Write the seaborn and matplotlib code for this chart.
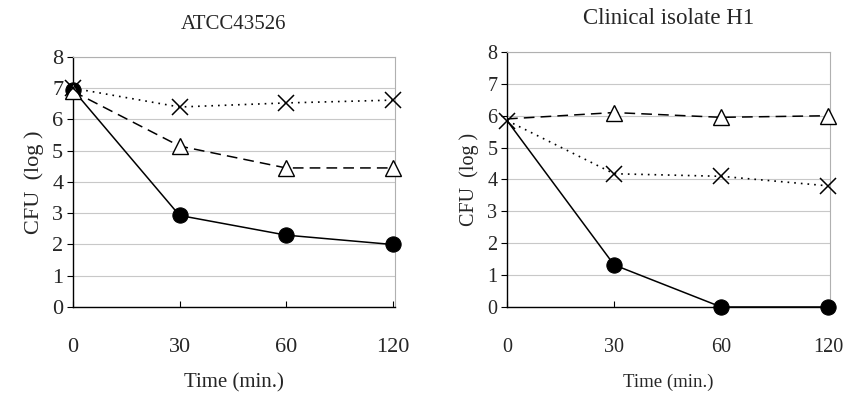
import numpy as np
import pandas as pd
import seaborn as sns
import matplotlib.pyplot as plt

times = ["0", "30", "60", "120"]

# ATCC43526
atcc_circle = [6.95, 2.93, 2.3, 2.0]
atcc_triangle = [6.9, 5.15, 4.45, 4.45]
atcc_cross = [7.0, 6.4, 6.53, 6.62]

# Clinical isolate H1
h1_circle = [5.85, 1.32, 0.0, 0.0]
h1_triangle = [5.9, 6.1, 5.95, 6.0]
h1_cross = [5.85, 4.18, 4.1, 3.8]

sns.set_style("white")
plt.rcParams["font.family"] = ["Liberation Serif", "DejaVu Serif"]

fig = plt.figure(figsize=(8.51, 3.95), dpi=100)
ax1 = fig.add_axes([0.0858, 0.2228, 0.378, 0.6329])
ax2 = fig.add_axes([0.5958, 0.2228, 0.380, 0.6456])

panels = [
    (ax1, "ATCC43526", atcc_circle, atcc_triangle, atcc_cross, 15, 16, 15, None),
    (ax2, "Clinical isolate H1", h1_circle, h1_triangle, h1_cross, 16.5, 14.5, 13.5, [1, 2, 3]),
]

for ax, title, circ, tri, crs, tsize, fsize, xlsize, mevery in panels:
    df = pd.DataFrame({"time": times, "circle": circ, "triangle": tri, "cross": crs})
    sns.lineplot(data=df, x="time", y="circle", ax=ax, color="black", lw=1.1,
                 linestyle="-", marker="o", markersize=11, markevery=mevery,
                 markerfacecolor="black", markeredgecolor="black", sort=False, zorder=3,
                 clip_on=False)
    sns.lineplot(data=df, x="time", y="triangle", ax=ax, color="black", lw=1.1,
                 linestyle=(0, (7, 4)), marker="^", markersize=11, markevery=mevery,
                 markerfacecolor="white", markeredgecolor="black", markeredgewidth=1.0,
                 sort=False, zorder=4, clip_on=False)
    sns.lineplot(data=df, x="time", y="cross", ax=ax, color="black", lw=1.2,
                 linestyle=(0, (1, 3)), marker="x", markersize=11,
                 markeredgecolor="black", markeredgewidth=1.1, sort=False, zorder=5,
                 clip_on=False)

    ax.set_xlim(0, 3.02)
    ax.set_ylim(0, 8)
    ax.set_yticks(range(0, 9))
    ax.yaxis.grid(True, color="#c8c8c8", lw=0.8)
    ax.set_axisbelow(True)
    for s in ["left", "bottom"]:
        ax.spines[s].set_color("black")
        ax.spines[s].set_linewidth(1.0)
    for s in ["top", "right"]:
        ax.spines[s].set_color("#b0b0b0")
        ax.spines[s].set_linewidth(0.8)
    ax.tick_params(axis="x", direction="in", length=4, pad=22, labelsize=fsize,
                   bottom=True, color="black")
    ax.tick_params(axis="y", direction="out", length=4, pad=3, labelsize=fsize,
                   left=True, color="black")
    ax.set_xlabel("Time (min.)", fontsize=xlsize, labelpad=12)
    ax.set_ylabel("CFU  (log )", fontsize=fsize, labelpad=6)
    ax.set_title(title, fontsize=tsize, pad=20)

fig.savefig("out.png", dpi=100)
